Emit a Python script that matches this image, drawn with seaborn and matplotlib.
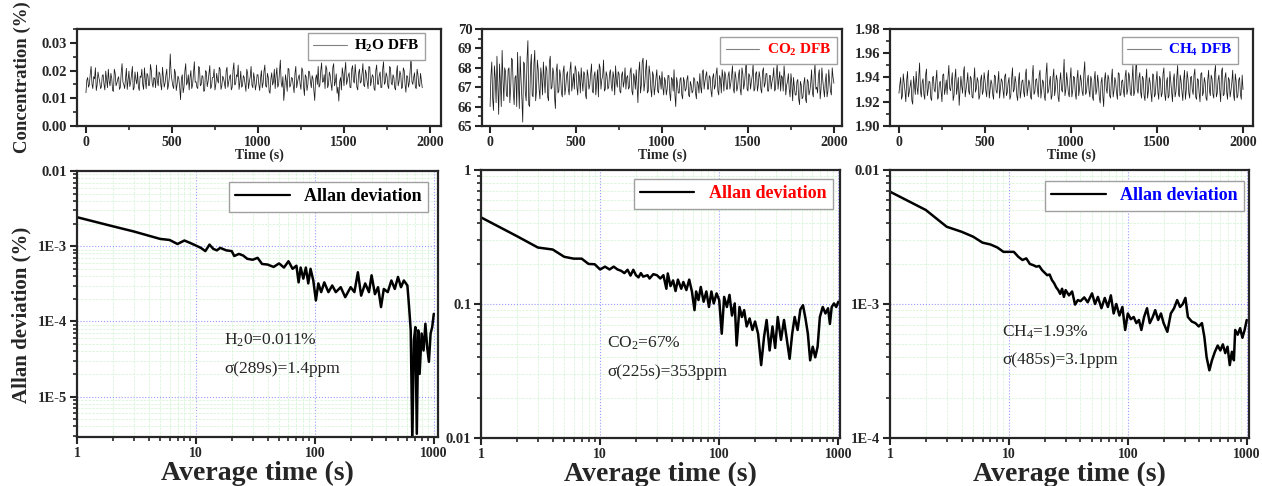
import numpy as np
import pandas as pd
import matplotlib
matplotlib.use("Agg")
import matplotlib.pyplot as plt
import seaborn as sns
from matplotlib.ticker import MultipleLocator, LogLocator, NullFormatter, FixedLocator, FixedFormatter

# ---------------- data ----------------
# concentration samples read at t = 0, 10, 20, ... s
t_h2o = list(range(0, 1960, 10))
h2o_conc = [
    0.0120, 0.0175, 0.0150, 0.0215, 0.0135, 0.0170, 0.0128, 0.0195, 0.0160, 0.0142,
    0.0185, 0.0130, 0.0168, 0.0205, 0.0145, 0.0172, 0.0125, 0.0190, 0.0155, 0.0178,
    0.0140, 0.0225, 0.0150, 0.0172, 0.0132, 0.0198, 0.0158, 0.0215, 0.0138, 0.0168,
    0.0195, 0.0128, 0.0175, 0.0150, 0.0210, 0.0135, 0.0182, 0.0148, 0.0200, 0.0140,
    0.0170, 0.0220, 0.0145, 0.0188, 0.0130, 0.0175, 0.0155, 0.0205, 0.0148, 0.0260,
    0.0165, 0.0135, 0.0190, 0.0150, 0.0170, 0.0095, 0.0185, 0.0140, 0.0225, 0.0158,
    0.0130, 0.0200, 0.0148, 0.0232, 0.0160, 0.0135, 0.0210, 0.0150, 0.0178, 0.0128,
    0.0195, 0.0160, 0.0218, 0.0142, 0.0175, 0.0130, 0.0190, 0.0155, 0.0205, 0.0145,
    0.0172, 0.0135, 0.0212, 0.0160, 0.0185, 0.0140, 0.0228, 0.0152, 0.0178, 0.0132,
    0.0198, 0.0145, 0.0175, 0.0125, 0.0190, 0.0160, 0.0215, 0.0138, 0.0170, 0.0150,
    0.0185, 0.0128, 0.0200, 0.0155, 0.0220, 0.0140, 0.0175, 0.0118, 0.0192, 0.0160,
    0.0135, 0.0210, 0.0150, 0.0238, 0.0140, 0.0092, 0.0185, 0.0125, 0.0205, 0.0148,
    0.0172, 0.0120, 0.0215, 0.0158, 0.0185, 0.0132, 0.0200, 0.0110, 0.0178, 0.0150,
    0.0195, 0.0138, 0.0170, 0.0092, 0.0185, 0.0215, 0.0148, 0.0228, 0.0160, 0.0135,
    0.0205, 0.0150, 0.0182, 0.0128, 0.0225, 0.0160, 0.0118, 0.0090, 0.0175, 0.0210,
    0.0145, 0.0230, 0.0165, 0.0192, 0.0138, 0.0218, 0.0155, 0.0180, 0.0130, 0.0205,
    0.0160, 0.0225, 0.0142, 0.0188, 0.0135, 0.0212, 0.0165, 0.0178, 0.0128, 0.0220,
    0.0150, 0.0195, 0.0140, 0.0232, 0.0158, 0.0180, 0.0135, 0.0210, 0.0148, 0.0175,
    0.0130, 0.0218, 0.0160, 0.0185, 0.0140, 0.0200, 0.0122, 0.0178, 0.0158, 0.0248,
    0.0150, 0.0192, 0.0135, 0.0185, 0.0142, 0.0165,
]
# samples read in between, at t = 5, 15, 25, ... s
t_h2o_mid = list(range(5, 1960, 10))
h2o_conc_mid = [
    0.0165, 0.0140, 0.0188, 0.0152, 0.0178, 0.0210, 0.0148, 0.0175, 0.0135, 0.0182,
    0.0150, 0.0198, 0.0138, 0.0162, 0.0190, 0.0128, 0.0205, 0.0145, 0.0170, 0.0132,
    0.0192, 0.0158, 0.0135, 0.0208, 0.0165, 0.0142, 0.0185, 0.0130, 0.0195, 0.0152,
    0.0140, 0.0180, 0.0205, 0.0132, 0.0168, 0.0190, 0.0145, 0.0222, 0.0155, 0.0175,
    0.0138, 0.0162, 0.0195, 0.0150, 0.0212, 0.0140, 0.0185, 0.0132, 0.0178, 0.0190,
    0.0145, 0.0205, 0.0128, 0.0180, 0.0140, 0.0172, 0.0120, 0.0198, 0.0148, 0.0185,
    0.0175, 0.0135, 0.0190, 0.0158, 0.0140, 0.0215, 0.0145, 0.0182, 0.0125, 0.0200,
    0.0142, 0.0188, 0.0135, 0.0175, 0.0205, 0.0150, 0.0165, 0.0212, 0.0132, 0.0180,
    0.0155, 0.0198, 0.0140, 0.0178, 0.0130, 0.0202, 0.0148, 0.0185, 0.0220, 0.0158,
    0.0140, 0.0182, 0.0150, 0.0205, 0.0135, 0.0178, 0.0148, 0.0192, 0.0130, 0.0185,
    0.0150, 0.0172, 0.0138, 0.0198, 0.0145, 0.0190, 0.0125, 0.0170, 0.0148, 0.0205,
    0.0182, 0.0140, 0.0195, 0.0155, 0.0178, 0.0130, 0.0160, 0.0208, 0.0140, 0.0175,
    0.0145, 0.0190, 0.0138, 0.0175, 0.0150, 0.0210, 0.0142, 0.0185, 0.0128, 0.0198,
    0.0160, 0.0182, 0.0128, 0.0170, 0.0150, 0.0140, 0.0200, 0.0158, 0.0185, 0.0218,
    0.0138, 0.0195, 0.0150, 0.0210, 0.0145, 0.0188, 0.0140, 0.0160, 0.0130, 0.0185,
    0.0198, 0.0150, 0.0182, 0.0140, 0.0205, 0.0162, 0.0222, 0.0140, 0.0190, 0.0155,
    0.0190, 0.0148, 0.0202, 0.0158, 0.0215, 0.0145, 0.0185, 0.0135, 0.0200, 0.0152,
    0.0182, 0.0138, 0.0205, 0.0150, 0.0192, 0.0145, 0.0215, 0.0155, 0.0185, 0.0138,
    0.0190, 0.0145, 0.0198, 0.0135, 0.0210, 0.0150, 0.0182, 0.0140, 0.0205, 0.0160,
    0.0175, 0.0140, 0.0205, 0.0148, 0.0190, 0.0138,
]

t_co2 = list(range(0, 2010, 10))
co2_conc = [
    66.0, 68.3, 65.8, 67.5, 68.6, 65.6, 67.2, 68.9, 66.3, 67.8,
    66.5, 68.0, 67.0, 68.4, 66.1, 67.6, 68.8, 65.9, 67.4, 65.2,
    68.2, 66.3, 69.4, 66.0, 68.7, 66.5, 68.9, 66.8, 67.9, 66.4,
    67.5, 68.3, 66.7, 67.9, 66.3, 68.6, 67.0, 67.7, 65.9, 68.2,
    66.8, 67.6, 66.5, 68.1, 67.0, 67.8, 66.6, 68.3, 67.2, 66.9,
    67.9, 66.6, 67.5, 68.0, 66.8, 67.7, 66.4, 67.6, 67.1, 68.2,
    66.7, 67.8, 67.2, 66.5, 68.0, 67.4, 68.4, 66.9, 67.6, 67.0,
    67.9, 66.8, 67.5, 68.1, 67.0, 67.7, 66.7, 67.8, 67.3, 66.9,
    67.6, 67.0, 68.0, 66.6, 67.5, 67.9, 66.2, 68.3, 67.1, 68.5,
    67.2, 68.4, 66.8, 67.7, 66.5, 67.6, 67.0, 67.9, 66.7, 67.4,
    67.8, 66.6, 67.3, 66.9, 67.6, 66.3, 67.4, 67.9, 66.0, 67.2,
    66.7, 67.5, 66.4, 67.3, 66.9, 67.6, 66.5, 67.1, 66.8, 67.4,
    66.4, 67.2, 67.7, 66.7, 67.9, 67.3, 67.8, 66.9, 67.5, 66.5,
    67.7, 67.1, 68.0, 66.6, 67.4, 67.9, 66.8, 67.6, 66.9, 67.8,
    67.2, 68.1, 66.7, 67.5, 67.0, 67.9, 66.6, 67.7, 67.2, 68.4,
    66.8, 67.6, 67.3, 68.2, 66.9, 67.8, 67.1, 67.5, 66.7, 68.0,
    67.2, 67.7, 66.8, 67.6, 67.3, 68.0, 66.9, 68.2, 67.4, 66.8,
    67.5, 68.1, 66.6, 67.3, 66.9, 67.7, 66.3, 67.0, 66.6, 67.4,
    66.1, 67.1, 66.5, 67.5, 66.2, 67.3, 66.8, 67.9, 66.5, 68.2,
    67.0, 67.6, 66.4, 68.0, 66.9, 67.3, 66.5, 67.9, 66.8, 68.0,
    67.2,
]
t_co2_mid = list(range(5, 2000, 10))
co2_conc_mid = [
    67.6, 66.4, 68.1, 66.2, 67.0, 68.2, 66.0, 67.4, 68.0, 66.6,
    67.9, 66.2, 68.5, 66.8, 67.5, 66.0, 67.2, 68.6, 66.4, 68.3,
    66.7, 68.5, 66.1, 68.0, 66.6, 68.2, 66.3, 68.4, 66.9, 68.0,
    66.6, 67.4, 68.1, 66.5, 68.3, 66.9, 68.0, 66.5, 67.8, 66.7,
    67.9, 66.7, 67.8, 66.6, 67.6, 66.9, 67.9, 66.8, 67.7, 68.1,
    67.0, 67.8, 66.7, 67.3, 67.8, 66.6, 67.9, 66.9, 67.7, 66.8,
    67.6, 66.6, 67.9, 68.2, 66.9, 67.6, 66.8, 67.8, 66.9, 67.7,
    67.1, 67.8, 66.6, 67.3, 67.8, 66.8, 67.6, 67.0, 68.0, 67.5,
    66.9, 67.8, 66.8, 67.7, 66.9, 67.1, 67.8, 66.7, 68.3, 66.8,
    67.9, 66.7, 68.1, 66.9, 67.8, 66.6, 67.5, 66.8, 67.6, 66.9,
    67.0, 67.5, 66.6, 67.6, 66.7, 67.5, 66.8, 66.6, 67.5, 66.7,
    67.4, 66.6, 67.5, 66.8, 67.4, 66.6, 67.3, 66.7, 67.5, 66.7,
    67.3, 66.7, 67.0, 67.8, 66.9, 67.6, 66.9, 67.6, 66.8, 67.5,
    66.9, 67.7, 66.8, 67.6, 66.7, 67.5, 67.8, 66.9, 67.6, 66.9,
    67.6, 66.9, 67.8, 66.8, 67.6, 66.9, 68.0, 66.9, 67.8, 66.9,
    67.7, 66.9, 67.6, 66.8, 67.7, 66.8, 67.8, 66.9, 67.8, 67.0,
    67.7, 66.8, 67.6, 66.9, 67.5, 66.8, 67.7, 66.9, 67.8, 67.6,
    66.8, 67.5, 67.1, 67.7, 66.5, 67.2, 67.5, 66.6, 67.3, 66.4,
    67.3, 66.4, 67.2, 66.4, 67.4, 66.6, 67.2, 66.7, 67.6, 66.9,
    66.7, 67.9, 66.9, 67.4, 66.5, 67.7, 66.8, 67.3, 66.6, 67.5,
]

t_ch4 = list(range(0, 2010, 10))
ch4_conc = [
    1.927, 1.940, 1.925, 1.936, 1.920, 1.945, 1.928, 1.938, 1.918, 1.933,
    1.945, 1.926, 1.952, 1.924, 1.939, 1.922, 1.947, 1.930, 1.936, 1.921,
    1.941, 1.928, 1.946, 1.924, 1.937, 1.920, 1.943, 1.931, 1.926, 1.950,
    1.929, 1.944, 1.925, 1.947, 1.932, 1.917, 1.941, 1.927, 1.949, 1.930,
    1.944, 1.926, 1.939, 1.923, 1.948, 1.931, 1.937, 1.925, 1.942, 1.929,
    1.938, 1.924, 1.946, 1.930, 1.935, 1.922, 1.941, 1.927, 1.945, 1.931,
    1.937, 1.923, 1.943, 1.928, 1.940, 1.925, 1.948, 1.930, 1.936, 1.921,
    1.944, 1.929, 1.938, 1.924, 1.947, 1.931, 1.935, 1.922, 1.950, 1.928,
    1.939, 1.924, 1.946, 1.930, 1.936, 1.921, 1.952, 1.929, 1.941, 1.925,
    1.947, 1.931, 1.938, 1.920, 1.944, 1.928, 1.955, 1.930, 1.936, 1.924,
    1.948, 1.929, 1.940, 1.922, 1.946, 1.931, 1.937, 1.925, 1.953, 1.928,
    1.942, 1.924, 1.938, 1.921, 1.945, 1.930, 1.935, 1.919, 1.940, 1.916,
    1.944, 1.927, 1.939, 1.923, 1.947, 1.929, 1.936, 1.922, 1.943, 1.926,
    1.938, 1.924, 1.946, 1.930, 1.941, 1.925, 1.950, 1.928, 1.958, 1.927,
    1.944, 1.923, 1.939, 1.921, 1.947, 1.929, 1.936, 1.920, 1.942, 1.926,
    1.945, 1.922, 1.938, 1.927, 1.948, 1.921, 1.940, 1.925, 1.936, 1.920,
    1.943, 1.928, 1.950, 1.924, 1.937, 1.921, 1.946, 1.929, 1.939, 1.923,
    1.941, 1.926, 1.947, 1.922, 1.938, 1.920, 1.944, 1.928, 1.936, 1.921,
    1.946, 1.925, 1.939, 1.923, 1.950, 1.927, 1.942, 1.920, 1.948, 1.926,
    1.944, 1.922, 1.938, 1.929, 1.946, 1.921, 1.937, 1.925, 1.940, 1.922,
    1.930,
]
t_ch4_mid = list(range(5, 2000, 10))
ch4_conc_mid = [
    1.934, 1.922, 1.943, 1.929, 1.938, 1.924, 1.933, 1.921, 1.941, 1.926,
    1.932, 1.940, 1.929, 1.936, 1.926, 1.942, 1.925, 1.937, 1.923, 1.940,
    1.930, 1.938, 1.922, 1.935, 1.928, 1.942, 1.926, 1.938, 1.940, 1.931,
    1.937, 1.921, 1.939, 1.926, 1.940, 1.929, 1.933, 1.944, 1.924, 1.936,
    1.929, 1.941, 1.924, 1.937, 1.928, 1.940, 1.922, 1.938, 1.926, 1.944,
    1.929, 1.940, 1.923, 1.938, 1.926, 1.942, 1.929, 1.936, 1.923, 1.939,
    1.929, 1.941, 1.925, 1.936, 1.922, 1.939, 1.928, 1.941, 1.925, 1.937,
    1.923, 1.937, 1.928, 1.942, 1.925, 1.938, 1.924, 1.941, 1.926, 1.938,
    1.930, 1.942, 1.923, 1.938, 1.925, 1.943, 1.927, 1.936, 1.922, 1.940,
    1.925, 1.942, 1.924, 1.937, 1.930, 1.940, 1.925, 1.944, 1.927, 1.939,
    1.924, 1.941, 1.927, 1.939, 1.925, 1.942, 1.928, 1.944, 1.926, 1.937,
    1.929, 1.941, 1.924, 1.938, 1.926, 1.942, 1.923, 1.936, 1.925, 1.938,
    1.931, 1.942, 1.925, 1.938, 1.924, 1.940, 1.927, 1.944, 1.925, 1.937,
    1.929, 1.941, 1.926, 1.944, 1.927, 1.938, 1.925, 1.942, 1.930, 1.940,
    1.928, 1.941, 1.925, 1.938, 1.923, 1.940, 1.927, 1.943, 1.924, 1.937,
    1.928, 1.941, 1.924, 1.943, 1.926, 1.936, 1.923, 1.945, 1.928, 1.938,
    1.924, 1.940, 1.926, 1.942, 1.928, 1.938, 1.922, 1.945, 1.927, 1.940,
    1.930, 1.942, 1.924, 1.939, 1.927, 1.943, 1.925, 1.940, 1.923, 1.938,
    1.929, 1.942, 1.926, 1.944, 1.924, 1.938, 1.929, 1.945, 1.925, 1.940,
    1.928, 1.940, 1.924, 1.936, 1.926, 1.943, 1.923, 1.938, 1.926, 1.942,
]

tau_h2o = [1, 2, 3, 5, 6, 7, 8, 9, 10, 11, 12, 13, 14, 15, 16, 18, 20, 21, 23, 25,
           27, 30, 33, 36, 40, 45, 50, 55, 60, 65, 70, 73, 76, 80, 84, 88, 92, 97,
           102, 107, 113, 120, 130, 140, 150, 165, 180, 200, 215, 230, 245, 265,
           285, 300, 320, 340, 360, 380, 410, 440, 470, 500, 530, 560, 600, 620,
           640, 660, 680, 700, 720, 740, 760, 790, 820, 850, 880, 910, 940, 970, 1000]
adev_h2o = [2.43e-3, 1.84e-3, 1.57e-3, 1.25e-3, 1.21e-3, 1.07e-3, 1.19e-3, 1.10e-3,
            1.02e-3, 0.95e-3, 0.86e-3, 1.05e-3, 0.92e-3, 0.88e-3, 0.95e-3, 0.88e-3,
            0.86e-3, 0.74e-3, 0.79e-3, 0.75e-3, 0.68e-3, 0.66e-3, 0.70e-3, 0.58e-3,
            0.57e-3, 0.53e-3, 0.59e-3, 0.52e-3, 0.63e-3, 0.50e-3, 0.55e-3, 0.33e-3,
            0.52e-3, 0.37e-3, 0.52e-3, 0.32e-3, 0.50e-3, 0.35e-3, 0.19e-3, 0.32e-3,
            0.245e-3, 0.33e-3, 0.245e-3, 0.30e-3, 0.245e-3, 0.285e-3, 0.21e-3,
            0.285e-3, 0.245e-3, 0.45e-3, 0.22e-3, 0.32e-3, 0.245e-3, 0.41e-3,
            0.23e-3, 0.285e-3, 0.155e-3, 0.27e-3, 0.245e-3, 0.35e-3, 0.27e-3,
            0.39e-3, 0.285e-3, 0.35e-3, 0.30e-3, 0.155e-3, 0.076e-3, 2.5e-6,
            0.056e-3, 0.084e-3, 3.2e-6, 0.076e-3, 0.020e-3, 0.069e-3, 0.041e-3,
            0.093e-3, 0.045e-3, 0.029e-3, 0.069e-3, 0.084e-3, 0.126e-3]

tau_co2 = [1, 2, 3, 4, 5, 6, 7, 8, 9, 10, 11, 12, 13, 14, 15, 16, 17, 18, 19, 20,
           21, 22, 23, 25, 26, 28, 30, 32, 34, 36, 37, 39, 41, 43, 45, 48, 50, 53,
           56, 59, 62, 64, 67, 70, 74, 78, 82, 86, 90, 95, 100, 105, 110, 116, 122,
           128, 135, 140, 148, 155, 162, 170, 180, 190, 200, 212, 225, 238, 250,
           265, 280, 295, 310, 330, 350, 370, 390, 410, 430, 455, 480, 505, 530,
           555, 580, 610, 640, 670, 700, 740, 780, 820, 850, 880, 920, 960, 1000]
adev_co2 = [0.443, 0.321, 0.264, 0.255, 0.225, 0.218, 0.218, 0.199, 0.198, 0.181,
            0.190, 0.181, 0.190, 0.181, 0.177, 0.170, 0.180, 0.163, 0.180, 0.164,
            0.158, 0.170, 0.160, 0.164, 0.155, 0.167, 0.164, 0.155, 0.164, 0.130,
            0.169, 0.136, 0.150, 0.125, 0.152, 0.130, 0.146, 0.127, 0.152, 0.124,
            0.090, 0.124, 0.107, 0.134, 0.104, 0.124, 0.095, 0.124, 0.101, 0.120,
            0.107, 0.060, 0.113, 0.095, 0.117, 0.082, 0.101, 0.049, 0.095, 0.080,
            0.090, 0.068, 0.078, 0.064, 0.074, 0.060, 0.035, 0.057, 0.076, 0.045,
            0.068, 0.047, 0.080, 0.054, 0.076, 0.054, 0.039, 0.060, 0.080, 0.064,
            0.091, 0.098, 0.078, 0.060, 0.038, 0.048, 0.040, 0.048, 0.080, 0.095,
            0.085, 0.093, 0.071, 0.095, 0.101, 0.095, 0.104]

tau_ch4 = [1, 2, 3, 4, 5, 6, 7, 8, 9, 10, 11, 12, 13, 14, 15, 16, 17, 18, 19, 20,
           21, 22, 23, 24, 25, 26, 27, 28, 29, 30, 32, 34, 36, 38, 40, 43, 46, 50,
           53, 56, 60, 64, 68, 72, 76, 80, 85, 90, 95, 100, 106, 112, 118, 124, 130,
           137, 145, 153, 162, 170, 180, 190, 200, 215, 230, 245, 260, 275, 290,
           305, 320, 345, 370, 395, 420, 440, 460, 485, 510, 540, 570, 600, 630,
           660, 690, 720, 750, 780, 800, 840, 880, 920, 960, 1000]
adev_ch4 = [6.89e-3, 5.03e-3, 3.77e-3, 3.46e-3, 3.18e-3, 2.87e-3, 2.78e-3, 2.64e-3,
            2.45e-3, 2.45e-3, 2.45e-3, 2.25e-3, 2.13e-3, 2.19e-3, 1.99e-3, 1.95e-3,
            1.90e-3, 1.92e-3, 1.79e-3, 1.71e-3, 1.64e-3, 1.66e-3, 1.51e-3, 1.43e-3,
            1.33e-3, 1.27e-3, 1.19e-3, 1.30e-3, 1.13e-3, 1.27e-3, 1.16e-3, 1.24e-3,
            0.99e-3, 1.07e-3, 1.05e-3, 1.12e-3, 1.03e-3, 1.20e-3, 1.00e-3, 1.13e-3,
            0.93e-3, 1.11e-3, 0.95e-3, 1.16e-3, 0.85e-3, 1.00e-3, 0.82e-3, 0.95e-3,
            0.64e-3, 0.85e-3, 0.77e-3, 0.80e-3, 0.72e-3, 0.76e-3, 0.64e-3, 0.80e-3,
            0.93e-3, 0.72e-3, 0.80e-3, 0.90e-3, 0.76e-3, 0.85e-3, 0.72e-3, 0.62e-3,
            0.85e-3, 0.93e-3, 1.07e-3, 0.95e-3, 1.00e-3, 1.11e-3, 0.80e-3, 0.74e-3,
            0.72e-3, 0.68e-3, 0.72e-3, 0.57e-3, 0.40e-3, 0.32e-3, 0.38e-3, 0.44e-3,
            0.49e-3, 0.45e-3, 0.50e-3, 0.43e-3, 0.48e-3, 0.35e-3, 0.44e-3, 0.38e-3,
            0.64e-3, 0.59e-3, 0.66e-3, 0.56e-3, 0.64e-3, 0.76e-3]

top_labels = [r"H$_{\mathbf{2}}$O DFB", r"CO$_{\mathbf{2}}$ DFB", r"CH$_{\mathbf{4}}$ DFB"]
label_colors = ["black", "red", "blue"]
note_lines = [
    (r"H$_{\mathrm{2}}$0=0.011%", r"σ(289s)=1.4ppm"),
    (r"CO$_{\mathrm{2}}$=67%", r"σ(225s)=353ppm"),
    (r"CH$_{\mathrm{4}}$=1.93%", r"σ(485s)=3.1ppm"),
]

# ---------------- style ----------------
sns.set_style("ticks")
plt.rcParams["font.family"] = ["Liberation Serif", "DejaVu Serif"]
plt.rcParams["mathtext.fontset"] = "custom"
plt.rcParams["mathtext.rm"] = "Liberation Serif"
plt.rcParams["mathtext.it"] = "Liberation Serif:italic"
plt.rcParams["mathtext.bf"] = "Liberation Serif:bold"
plt.rcParams["axes.linewidth"] = 1.6

fig = plt.figure(figsize=(12.62, 4.86), dpi=100)
W, H = 1262.0, 486.0

def ax_at(l, t, r, b):
    return fig.add_axes([l / W, 1 - b / H, (r - l) / W, (b - t) / H])

top_boxes = [(77, 29, 441, 126), (482, 29, 842, 126), (890, 29, 1253, 126)]
bot_boxes = [(77, 171, 438, 437), (481, 170, 840, 438), (890, 170, 1249, 438)]
top_xlims = [(-52, 2064), (-47, 2047), (-52, 2058)]
top_ylims = [(0.0, 0.035), (65, 70), (1.90, 1.98)]
top_major = [0.01, 1, 0.02]
top_minor = [0.005, 0.5, 0.01]
top_fmt = ["{:.2f}", "{:.0f}", "{:.2f}"]
top_leg_anchor = [(0.956, 0.959), (0.986, 0.918), (0.959, 0.918)]
top_series = [(t_h2o, h2o_conc, t_h2o_mid, h2o_conc_mid),
              (t_co2, co2_conc, t_co2_mid, co2_conc_mid),
              (t_ch4, ch4_conc, t_ch4_mid, ch4_conc_mid)]

bot_series = [(tau_h2o, adev_h2o), (tau_co2, adev_co2), (tau_ch4, adev_ch4)]
bot_xlims = [(1, 1085), (1, 1033), (1, 1045)]
bot_ylims = [(2.9e-6, 1e-2), (0.01, 1), (1e-4, 1e-2)]
bot_ticks = [[1e-5, 1e-4, 1e-3, 1e-2], [0.01, 0.1, 1], [1e-4, 1e-3, 1e-2]]
bot_ticklabels = [["1E-5", "1E-4", "1E-3", "0.01"], ["0.01", "0.1", "1"], ["1E-4", "1E-3", "0.01"]]
bot_leg_anchor = [(0.972, 0.959), (0.98, 0.966), (0.986, 0.959)]
note_pos = [(0.407, 0.365, 0.256), (0.351, 0.354, 0.246), (0.312, 0.396, 0.291)]

def style_ticks(ax):
    ax.tick_params(axis="both", which="major", direction="out", length=5, width=1.5,
                   top=False, right=False, pad=2)
    ax.tick_params(axis="both", which="minor", direction="out", length=3, width=1.2,
                   top=False, right=False)
    for lab in ax.get_xticklabels():
        lab.set_fontweight("bold")
        lab.set_fontsize(10)
    for lab in ax.get_yticklabels():
        lab.set_fontweight("bold")
        lab.set_fontsize(10.5)

# ---------------- top row ----------------
for i in range(3):
    ax = ax_at(*top_boxes[i])
    ta, ca, tb, cb = top_series[i]
    df = pd.DataFrame({"t": list(ta) + list(tb), "c": list(ca) + list(cb)})
    df = df.sort_values("t")
    sns.lineplot(data=df, x="t", y="c", ax=ax, color="#1a1a1a", lw=0.55,
                 estimator=None, sort=False, label=top_labels[i])
    ax.set_xlim(*top_xlims[i])
    ax.set_ylim(*top_ylims[i])
    ax.xaxis.set_major_locator(MultipleLocator(500))
    ax.xaxis.set_minor_locator(MultipleLocator(250))
    ax.yaxis.set_major_locator(MultipleLocator(top_major[i]))
    ax.yaxis.set_minor_locator(MultipleLocator(top_minor[i]))
    fmt = top_fmt[i]
    ax.yaxis.set_major_formatter(matplotlib.ticker.FuncFormatter(lambda v, p, f=fmt: f.format(v)))
    ax.set_xlabel("Time (s)", fontsize=10, fontweight="bold")
    ax.xaxis.set_label_coords(0.5, -0.235)
    ax.xaxis.label.set_va("top")
    if i == 0:
        ax.set_ylabel("Concentration (%)", fontsize=13.5, fontweight="bold")
        ax.yaxis.set_label_coords(-0.125, 0.5)
    else:
        ax.set_ylabel("")
    style_ticks(ax)
    leg = ax.legend(loc="upper right", bbox_to_anchor=top_leg_anchor[i], borderaxespad=0,
                    fancybox=False, edgecolor="#a0a0a0", framealpha=1, handlelength=2.2,
                    prop=dict(weight="bold", size=11), borderpad=0.35, handletextpad=0.5)
    leg.get_frame().set_linewidth(1.0)
    for ln in leg.get_lines():
        ln.set_color("#808080")
        ln.set_linewidth(0.8)
    for txt in leg.get_texts():
        txt.set_color(label_colors[i])

# ---------------- bottom row ----------------
for i in range(3):
    ax = ax_at(*bot_boxes[i])
    x, y = bot_series[i]
    df = pd.DataFrame({"tau": x, "adev": y})
    sns.lineplot(data=df, x="tau", y="adev", ax=ax, color="black", lw=1.8,
                 estimator=None, sort=False, label="Allan deviation")
    ax.set_xscale("log")
    ax.set_yscale("log")
    ax.set_xlim(*bot_xlims[i])
    ax.set_ylim(*bot_ylims[i])
    ax.xaxis.set_major_locator(FixedLocator([1, 10, 100, 1000]))
    ax.xaxis.set_major_formatter(FixedFormatter(["1", "10", "100", "1000"]))
    ax.xaxis.set_minor_locator(LogLocator(base=10, subs=np.arange(2, 10)))
    ax.xaxis.set_minor_formatter(NullFormatter())
    ax.yaxis.set_major_locator(FixedLocator(bot_ticks[i]))
    ax.yaxis.set_major_formatter(FixedFormatter(bot_ticklabels[i]))
    ax.yaxis.set_minor_locator(LogLocator(base=10, subs=np.arange(2, 10)))
    ax.yaxis.set_minor_formatter(NullFormatter())
    ax.grid(True, which="minor", color="#d2f4d2", linestyle="--", linewidth=0.5)
    ax.grid(True, which="major", color="#9a9aff", linestyle=":", linewidth=0.8)
    ax.set_axisbelow(True)
    ax.set_xlabel("Average time (s)", fontsize=20, fontweight="bold")
    ax.xaxis.set_label_coords(0.5, -0.09)
    ax.xaxis.label.set_va("top")
    if i == 0:
        ax.set_ylabel("Allan deviation (%)", fontsize=15, fontweight="bold")
        ax.yaxis.set_label_coords(-0.125, 0.46)
    else:
        ax.set_ylabel("")
    style_ticks(ax)
    leg = ax.legend(loc="upper right", bbox_to_anchor=bot_leg_anchor[i], borderaxespad=0,
                    fancybox=False, edgecolor="#a0a0a0", framealpha=1, handlelength=3.0,
                    prop=dict(weight="bold", size=13), borderpad=0.35, handletextpad=0.8)
    leg.get_frame().set_linewidth(1.0)
    for ln in leg.get_lines():
        ln.set_linewidth(1.6)
    for txt in leg.get_texts():
        txt.set_color(label_colors[i])
    xp, y1, y2 = note_pos[i]
    ax.text(xp, y1, note_lines[i][0], transform=ax.transAxes, fontsize=12.5, va="center", ha="left")
    ax.text(xp, y2, note_lines[i][1], transform=ax.transAxes, fontsize=12.5, va="center", ha="left")

fig.savefig("out.png", dpi=100)
